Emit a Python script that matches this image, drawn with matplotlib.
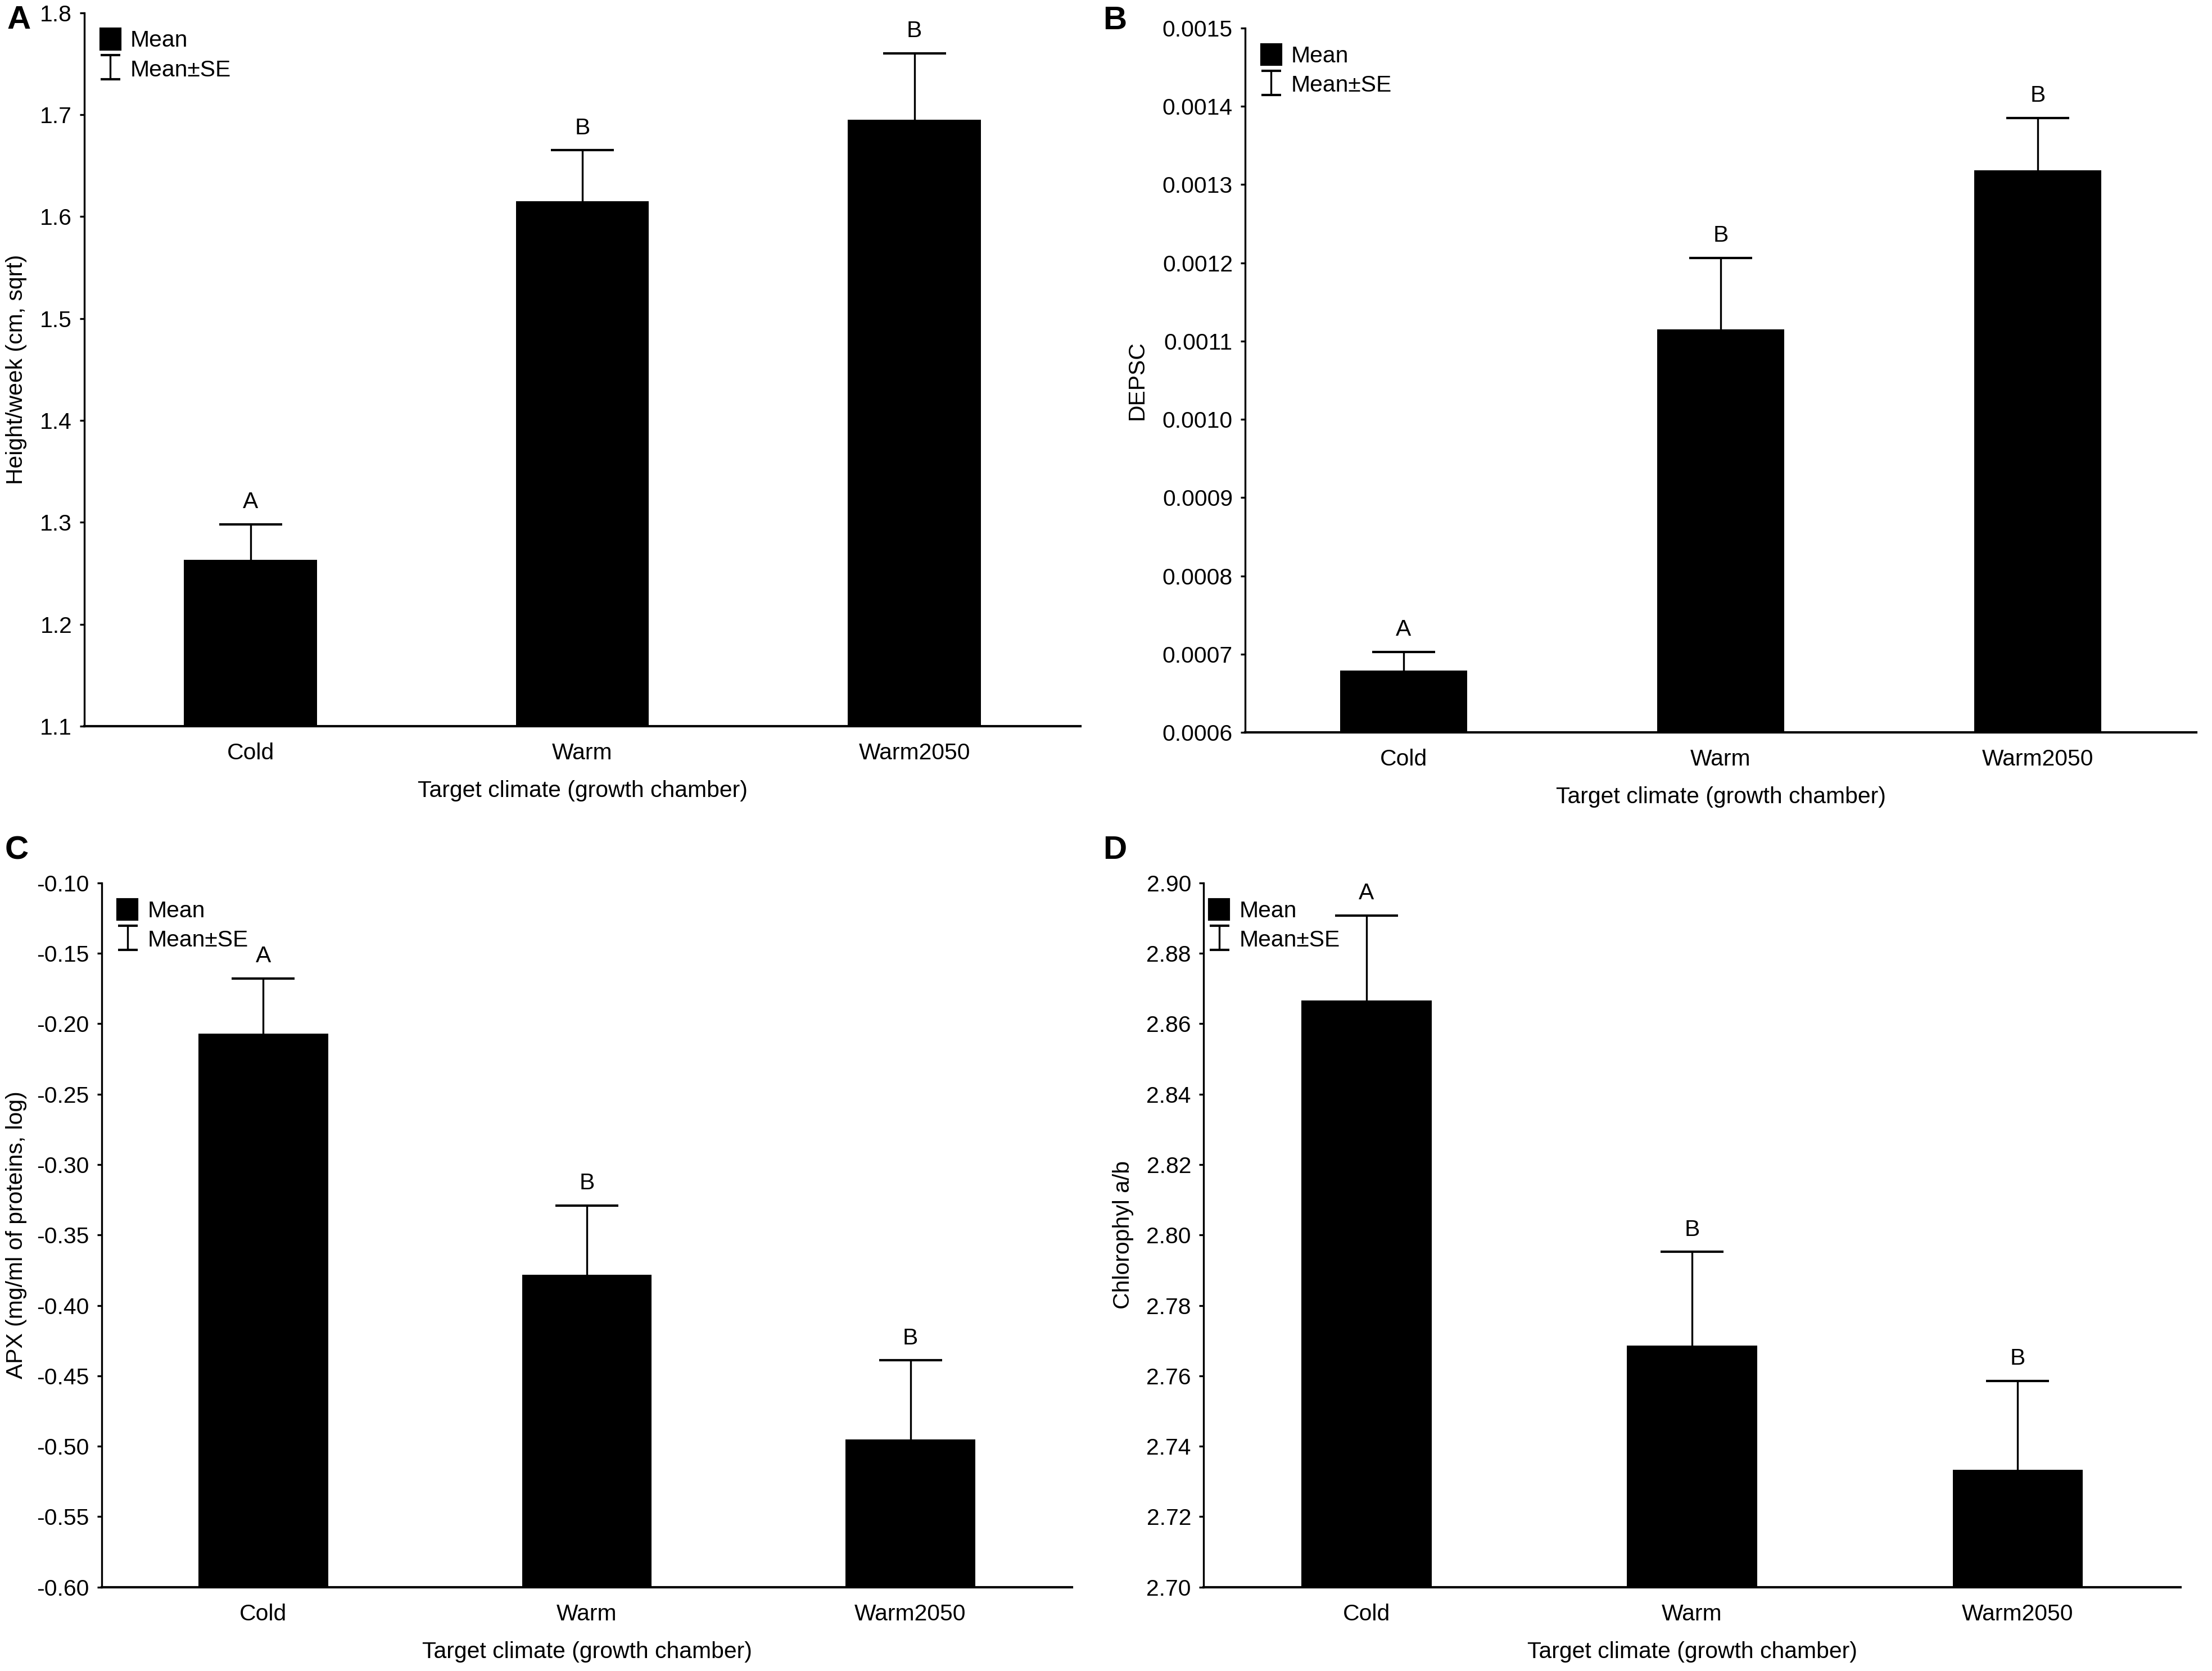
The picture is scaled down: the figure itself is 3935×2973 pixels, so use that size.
import matplotlib
matplotlib.use("Agg")
import matplotlib.pyplot as plt
import numpy as np
from matplotlib.patches import Patch
from matplotlib.lines import Line2D
from matplotlib.container import ErrorbarContainer
from matplotlib.legend_handler import HandlerErrorbar

plt.rcParams['font.family'] = ['Liberation Sans', 'DejaVu Sans']
plt.rcParams['font.size'] = 9.8
plt.rcParams['axes.unicode_minus'] = False

# data
climates = ["Cold", "Warm", "Warm2050"]
xlabel = "Target climate (growth chamber)"

height_mean = [1.263, 1.615, 1.695]
height_se = [0.035, 0.050, 0.065]
height_letters = ["A", "B", "B"]

depsc_mean = [0.000679, 0.001115, 0.001318]
depsc_se = [0.000024, 0.000091, 0.000067]
depsc_letters = ["A", "B", "B"]

apx_mean = [-0.207, -0.378, -0.495]
apx_se = [0.039, 0.049, 0.056]
apx_letters = ["A", "B", "B"]

chl_mean = [2.8667, 2.7686, 2.7333]
chl_se = [0.0241, 0.0266, 0.0253]
chl_letters = ["A", "B", "B"]


def legend_update(handle, orig):
    handle.update_from(orig)
    handle.set_visible(True)
    if isinstance(handle, Line2D):
        handle.set_markersize(8.4)


def bar_panel(ax, means, ses, letters, ylim, yticks, fmt, ylabel, ylabel_x, legend_dx=0.0):
    x = np.arange(len(climates))
    bottom = ylim[0]
    heights = [m - bottom for m in means]
    ax.bar(x, heights, bottom=bottom, width=0.40, color="black", linewidth=0, zorder=2)
    eb = ax.errorbar(x, means, yerr=[np.zeros(len(ses)), ses], fmt="none",
                     ecolor="black", elinewidth=0.8, capsize=13.5, capthick=1.0, zorder=1)
    # only the upper cap is drawn in the original
    eb[1][0].set_visible(False)
    for xi, m, s, lt in zip(x, means, ses, letters):
        ax.annotate(lt, (xi, m + s), xytext=(0, 5), textcoords="offset points",
                    ha="center", va="bottom")
    ax.set_xlim(-0.5, 2.5)
    ax.set_ylim(*ylim)
    ax.set_yticks(yticks)
    ax.set_yticklabels([fmt.format(v) for v in yticks])
    ax.set_xticks(x)
    ax.set_xticklabels(climates)
    ax.tick_params(axis="x", length=0, pad=7)
    ax.tick_params(axis="y", length=2.0, width=0.8, direction="out", pad=3.3)
    for side in ("top", "right"):
        ax.spines[side].set_visible(False)
    ax.spines["left"].set_linewidth(0.8)
    ax.spines["bottom"].set_linewidth(1.0)
    ax.set_xlabel(xlabel, labelpad=7)
    ax.set_ylabel(ylabel)
    ax.yaxis.set_label_coords(ylabel_x, 0.5)
    ax.legend([Patch(facecolor="black", edgecolor="black"), eb], ["Mean", "Mean±SE"],
              loc="upper left", bbox_to_anchor=(legend_dx, 1.0), frameon=False,
              handlelength=0.86, handleheight=1.0,
              handletextpad=0.44, labelspacing=0.3, borderaxespad=0.3, borderpad=0.4,
              handler_map={ErrorbarContainer: HandlerErrorbar(xerr_size=0.43, yerr_size=0.53,
                                                              update_func=legend_update)})


fig = plt.figure(figsize=(3935 / 300, 2973 / 300), dpi=300)

ax_a = fig.add_axes([0.0382, 0.5654, 0.4502, 0.4270])
bar_panel(ax_a, height_mean, height_se, height_letters, (1.1, 1.8),
          np.round(np.arange(1.1, 1.81, 0.1), 1), "{:.1f}", "Height/week (cm, sqrt)", -0.058)

ax_b = fig.add_axes([0.5629, 0.5617, 0.4300, 0.4215])
bar_panel(ax_b, depsc_mean, depsc_se, depsc_letters, (0.0006, 0.0015),
          np.round(np.arange(0.0006, 0.00151, 0.0001), 4), "{:.4f}", "DEPSC", -0.1025)

ax_c = fig.add_axes([0.0459, 0.0502, 0.4388, 0.4214])
bar_panel(ax_c, apx_mean, apx_se, apx_letters, (-0.60, -0.10),
          np.round(np.arange(-0.60, -0.099, 0.05), 2), "{:.2f}", "APX (mg/ml of proteins, log)", -0.0769)

ax_d = fig.add_axes([0.5441, 0.0502, 0.4417, 0.4214])
bar_panel(ax_d, chl_mean, chl_se, chl_letters, (2.70, 2.90),
          np.round(np.arange(2.70, 2.901, 0.02), 2), "{:.2f}", "Chlorophyl a/b", -0.0716,
          legend_dx=-0.0105)

for lbl, px, py in [("A", 0.0085, 0.988), ("B", 0.504, 0.9874),
                    ("C", 0.0076, 0.491), ("D", 0.504, 0.491)]:
    fig.text(px, py, lbl, fontsize=14, fontweight="bold", ha="center", va="center")

fig.savefig("out.png", dpi=300)
